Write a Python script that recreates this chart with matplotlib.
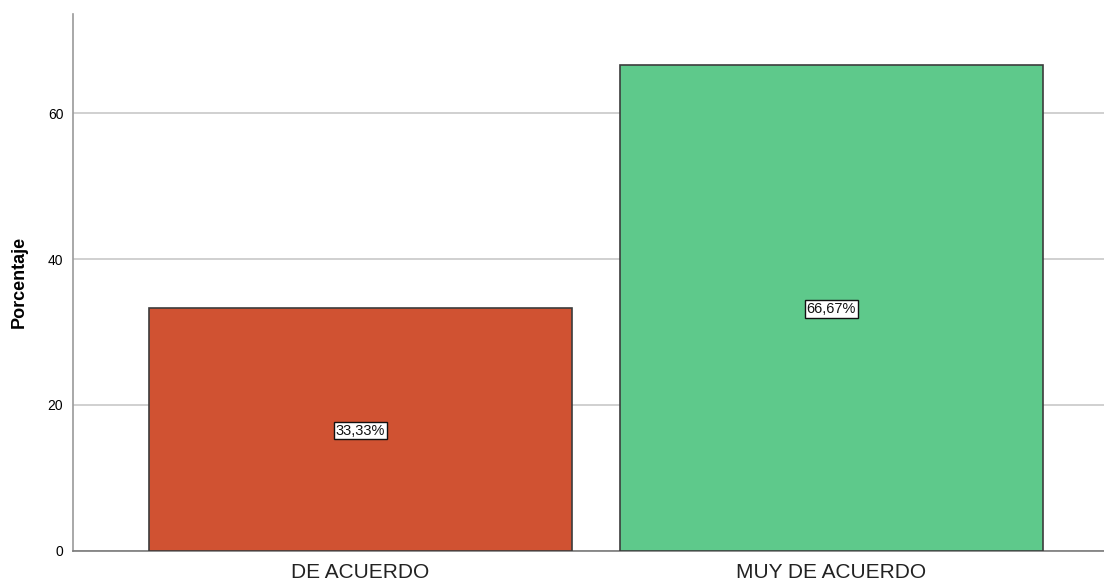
import matplotlib
matplotlib.use("Agg")
import matplotlib.pyplot as plt

categories = ["DE ACUERDO", "MUY DE ACUERDO"]
values = [33.33, 66.67]
labels = ["33,33%", "66,67%"]
colors = ["#D05232", "#5EC98B"]
yticks = [0, 20, 40, 60]

plt.rcParams['font.family'] = ['Liberation Sans', 'DejaVu Sans']

fig = plt.figure(figsize=(11.04, 5.82), dpi=100)
ax = fig.add_axes([73/1104, 1 - 550.5/582, 1 - 73/1104, (550.5 - 14)/582])

x = list(range(len(categories)))
bars = ax.bar(x, values, width=0.898, color=colors, edgecolor="#3C3C3C",
              linewidth=1.2, zorder=3)

for xi, v, lab in zip(x, values, labels):
    ax.text(xi, v / 2, lab, ha="center", va="center_baseline", fontsize=10.5,
            zorder=4, color="#111111",
            bbox=dict(boxstyle="square,pad=0.12", facecolor="white",
                      edgecolor="#111111", linewidth=1.0))

ax.set_xlim(-0.61, 1.579)
ax.set_ylim(0, 73.66)
ax.set_yticks(yticks)
ax.set_yticklabels([str(t) for t in yticks], fontsize=10)
ax.set_xticks(x)
ax.set_xticklabels(categories, fontsize=15, color="#222222")
ax.tick_params(axis="y", length=0, pad=7)
ax.tick_params(axis="x", length=0, pad=9)

ax.yaxis.grid(True, color="#C8C8C8", linewidth=1.2, zorder=0)
ax.set_axisbelow(True)

for s in ["top", "right"]:
    ax.spines[s].set_visible(False)
ax.spines["left"].set_color("#9A9A9A")
ax.spines["bottom"].set_color("#7A7A7A")
ax.spines["left"].set_linewidth(1.2)
ax.spines["bottom"].set_linewidth(1.2)

ax.set_ylabel("Porcentaje", fontsize=13, fontweight="bold", labelpad=14)

fig.savefig("out.png", dpi=100)
